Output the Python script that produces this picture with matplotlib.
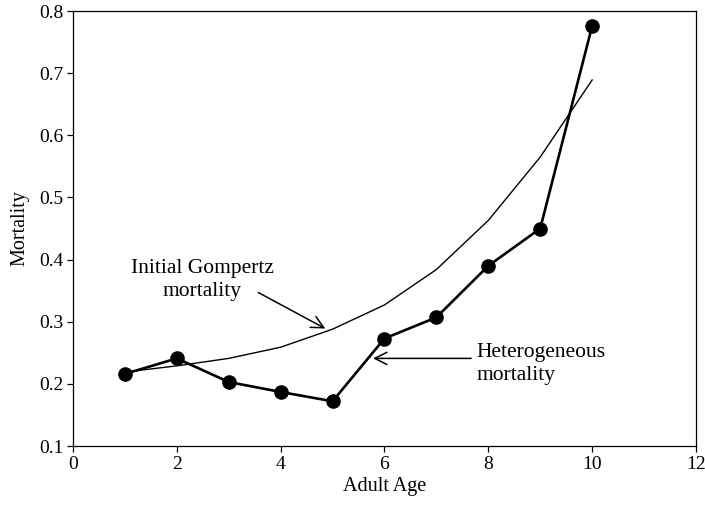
import matplotlib
matplotlib.use("Agg")
import matplotlib.pyplot as plt

# Adult age classes
ages = [1, 2, 3, 4, 5, 6, 7, 8, 9, 10]
# Observed (heterogeneous) mortality by age
hetero_mortality = [0.216, 0.241, 0.203, 0.187, 0.172, 0.273, 0.307, 0.390, 0.450, 0.776]
# Initial Gompertz mortality by age
gompertz_mortality = [0.219, 0.229, 0.241, 0.259, 0.288, 0.327, 0.384, 0.463, 0.565, 0.689]

x_ticks = [0, 2, 4, 6, 8, 10, 12]
y_ticks = [0.1, 0.2, 0.3, 0.4, 0.5, 0.6, 0.7, 0.8]
y_tick_labels = ["0.1", "0.2", "0.3", "0.4", "0.5", "0.6", "0.7", "0.8"]

plt.rcParams["font.family"] = ["Liberation Serif", "DejaVu Serif"]

fig = plt.figure(figsize=(7.05, 5.05), dpi=100)
ax = fig.add_axes([0.1035, 0.1168, 0.8837, 0.8614])

ax.plot(ages, gompertz_mortality, color="black", lw=1.0)
ax.plot(ages, hetero_mortality, color="black", lw=1.9,
        marker="o", markersize=9.5)

ax.set_xlim(0, 12)
ax.set_ylim(0.1, 0.8)
ax.set_xticks(x_ticks)
ax.set_yticks(y_ticks)
ax.set_yticklabels(y_tick_labels)
ax.tick_params(direction="out", length=4, width=0.9, labelsize=14, pad=3)
for s in ax.spines.values():
    s.set_linewidth(0.9)

ax.set_xlabel("Adult Age", fontsize=14.5, labelpad=3)
ax.set_ylabel("Mortality", fontsize=14.5, labelpad=7)

arrow_style = dict(arrowstyle="->", color="black", lw=1.1,
                   mutation_scale=22, shrinkA=0, shrinkB=0)

ax.text(2.49, 0.367, "Initial Gompertz\nmortality", ha="center", va="center",
        fontsize=15.5, linespacing=1.25)
ax.annotate("", xy=(4.86, 0.289), xytext=(3.57, 0.347), arrowprops=arrow_style)

ax.text(7.78, 0.232, "Heterogeneous\nmortality", ha="left", va="center",
        fontsize=15.5, linespacing=1.25)
ax.annotate("", xy=(5.78, 0.241), xytext=(7.67, 0.241), arrowprops=arrow_style)

fig.savefig("out.png", dpi=100)
